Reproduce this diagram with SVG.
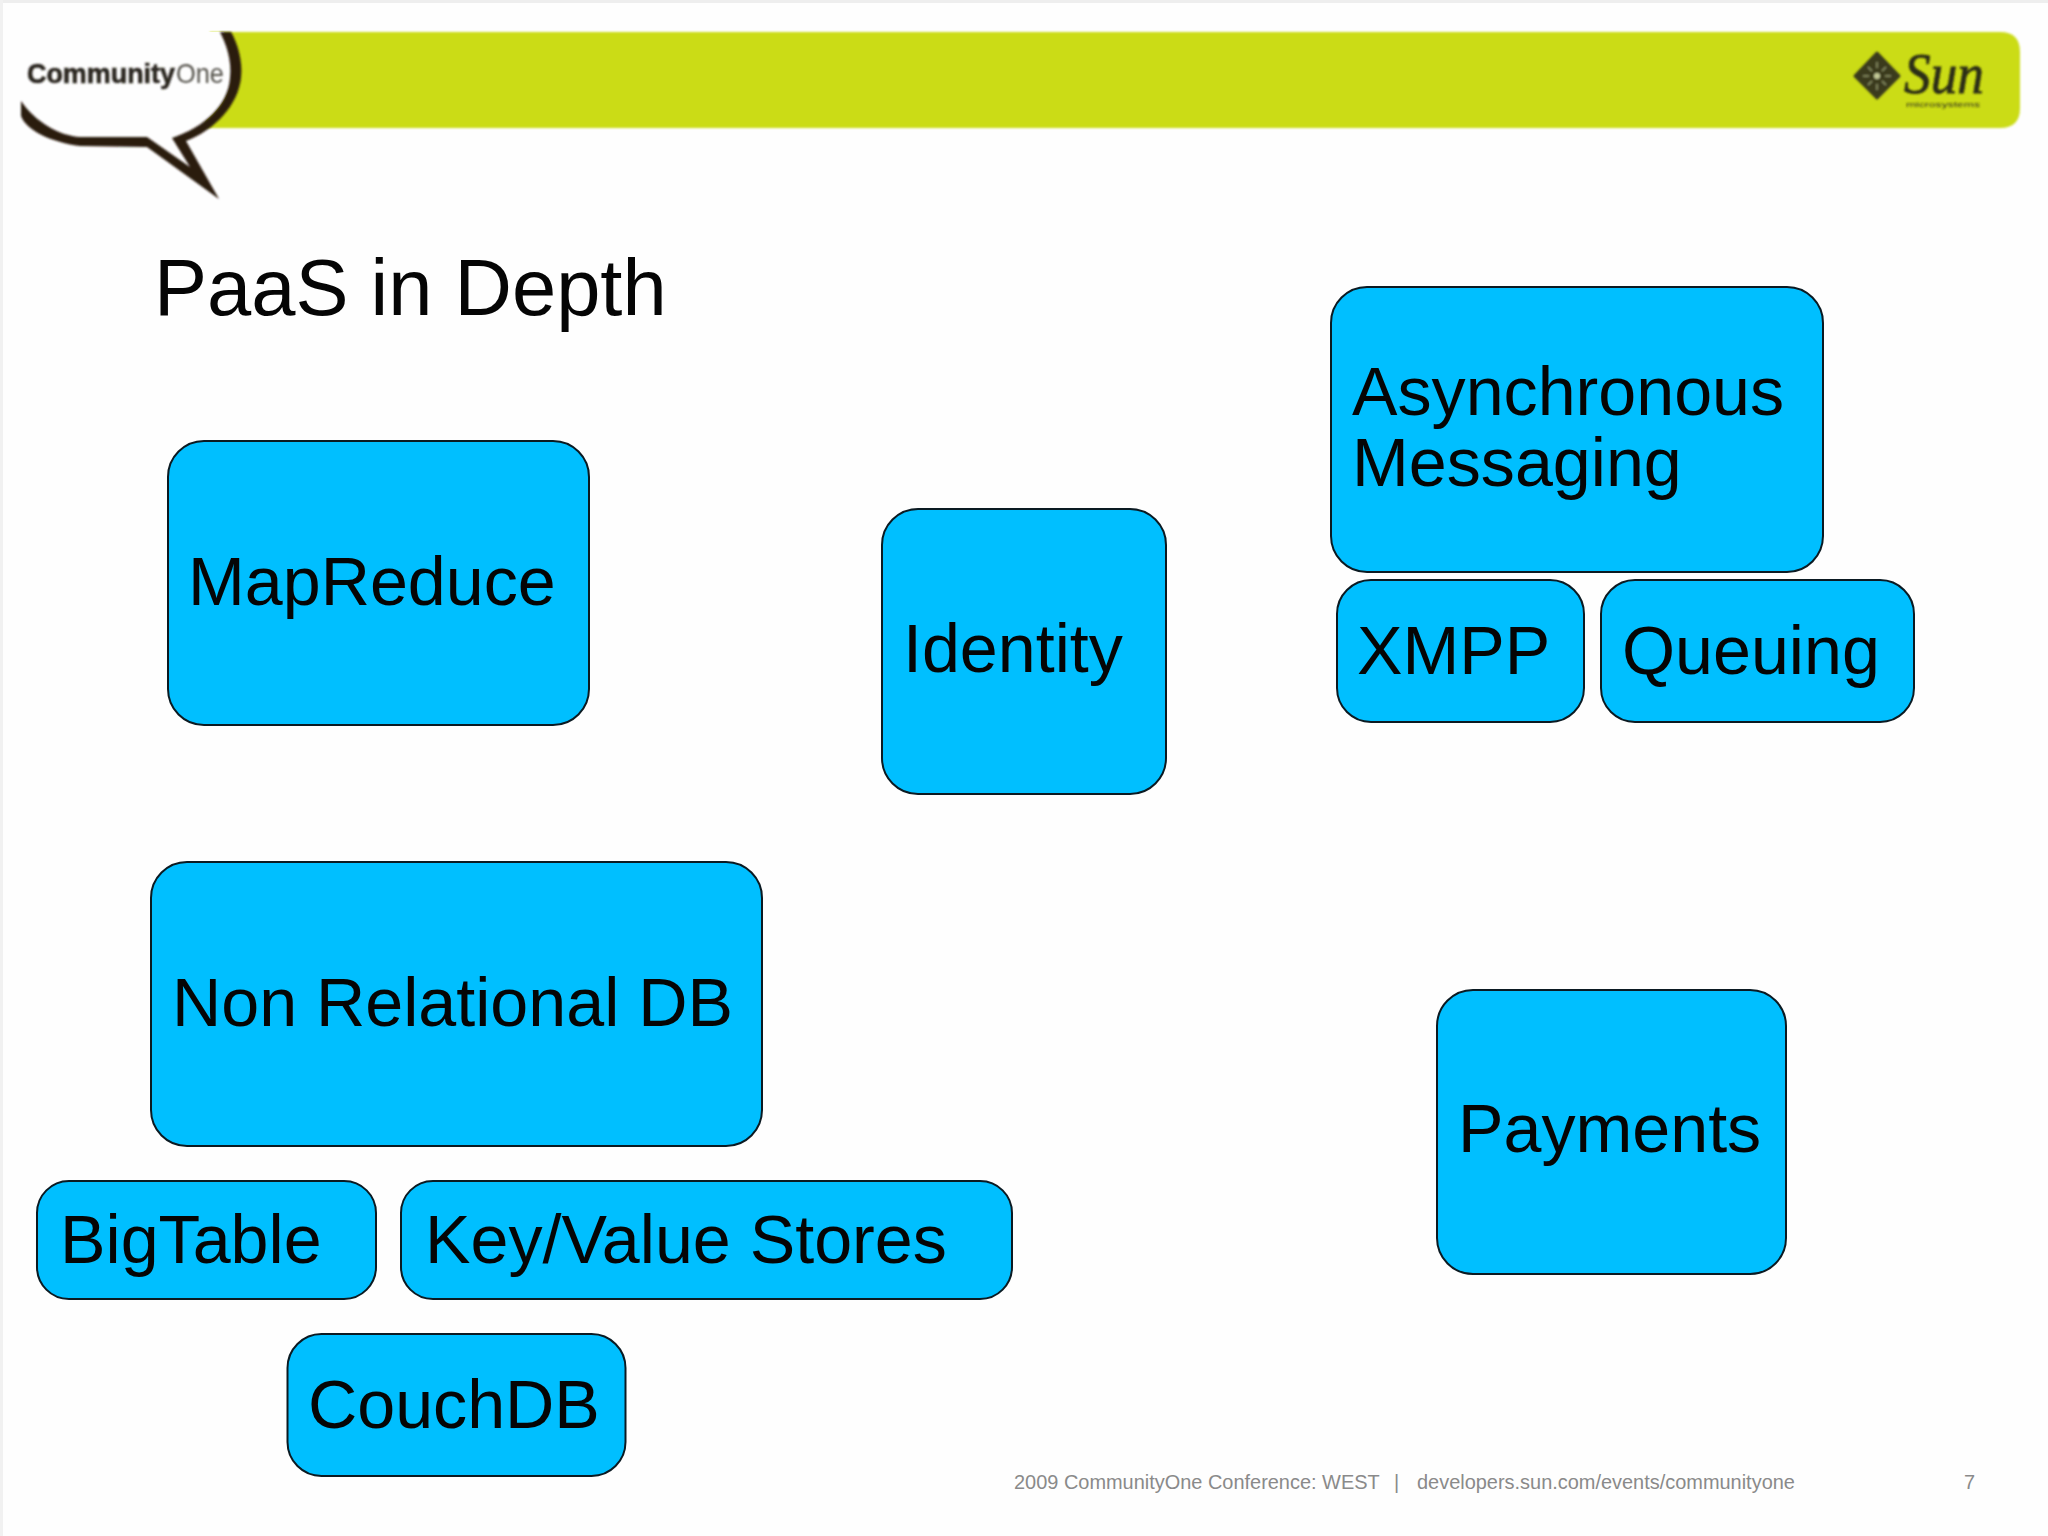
<svg xmlns="http://www.w3.org/2000/svg" width="2048" height="1536" viewBox="0 0 2048 1536">
<style>
text{font-family:"Liberation Sans",Arial,sans-serif}
.b{fill:#00bfff;stroke:#0b1a22;stroke-width:2}
.t{font-size:68.2px;fill:#050505}
.f{font-size:19.95px;fill:#8a8a8a}
</style>
<defs><filter id="s" x="-5%" y="-5%" width="110%" height="110%"><feGaussianBlur stdDeviation="0.8"/></filter></defs>
<rect width="2048" height="1536" fill="#fefefe"/>
<rect width="2048" height="3" fill="#eeeeee"/>
<rect width="3" height="1536" fill="#f1f1f1"/>
<g id="header">
<path d="M210 32H2000Q2020 32 2020 52V108Q2020 128 2000 128H205Z" fill="#cbdc16" filter="url(#s)"/>
<path d="M60 32H224C232 50 233 62 232 78C228 105 205 127 172 140H100L40 100Z" fill="#fefefe"/>
<path d="M220 32L231 32C237 42 243 60 241 78C238 105 215 130 186 141L219 199L147 147L80 146C50 142 26 130 21 116L21 101C35 122 60 136 80 137L147 137L190 167L172 138C205 127 228 105 230 78C232 60 226 44 220 32Z" fill="#2a1a0c" filter="url(#s)"/>
<g filter="url(#s)">
<text x="27" y="83" font-size="28" font-weight="700" fill="#2a2620" stroke="#2a2620" stroke-width="0.6" textLength="148" lengthAdjust="spacingAndGlyphs">Community</text>
<text x="176" y="83" font-size="28" fill="#55524c" textLength="48" lengthAdjust="spacingAndGlyphs">One</text>
<path d="M1877 53L1899 76L1877 98L1855 76Z" fill="#3a3a1e" stroke="#3a3a1e" stroke-width="3" stroke-linejoin="round"/>
<path d="M1877 62V68M1877 84V90M1863 76H1869M1885 76H1891M1868 67L1872 71M1882 81L1886 85M1886 67L1882 71M1872 81L1868 85" stroke="#8f9468" stroke-width="1.5" fill="none"/>
<circle cx="1877" cy="76" r="3" fill="#c4ca98"/>
<text x="1904" y="93" font-style="italic" font-size="57" fill="#2c2d14" stroke="#2c2d14" stroke-width="0.8" textLength="80" lengthAdjust="spacingAndGlyphs" style="font-family:'Liberation Serif',serif">Sun</text>
<text x="1906" y="107" font-size="8" fill="#33341a" textLength="74" lengthAdjust="spacingAndGlyphs">microsystems</text>
</g>
</g>
<text id="title" x="154" y="315" font-size="79.5" fill="#050505">PaaS in Depth</text>
<g id="mapreduce"><rect class="b" x="168" y="441" width="421" height="284" rx="36"/><text class="t" x="188" y="605">MapReduce</text></g>
<g id="identity"><rect class="b" x="882" y="509" width="284" height="285" rx="36"/><text class="t" x="903" y="672">Identity</text></g>
<g id="async"><rect class="b" x="1331" y="287" width="492" height="285" rx="36"/><text class="t" x="1352" y="415">Asynchronous</text><text class="t" x="1352" y="486">Messaging</text></g>
<g id="xmpp"><rect class="b" x="1337" y="580" width="247" height="142" rx="34"/><text class="t" x="1357" y="674">XMPP</text></g>
<g id="queuing"><rect class="b" x="1601" y="580" width="313" height="142" rx="34"/><text class="t" x="1622" y="674">Queuing</text></g>
<g id="nonrel"><rect class="b" x="151" y="862" width="611" height="284" rx="36"/><text class="t" x="172" y="1026">Non Relational DB</text></g>
<g id="bigtable"><rect class="b" x="37" y="1181" width="339" height="118" rx="32"/><text class="t" x="60" y="1263">BigTable</text></g>
<g id="keyvalue"><rect class="b" x="401" y="1181" width="611" height="118" rx="32"/><text class="t" x="425" y="1263">Key/Value Stores</text></g>
<g id="couchdb"><rect class="b" x="287.500" y="1334" width="338" height="142" rx="34"/><text class="t" x="308" y="1428">CouchDB</text></g>
<g id="payments"><rect class="b" x="1437" y="990" width="349" height="284" rx="36"/><text class="t" x="1458" y="1152">Payments</text></g>
<g id="footer"><text class="f" x="1014" y="1489">2009 CommunityOne Conference: WEST</text><text class="f" x="1394" y="1489">|</text><text class="f" x="1417" y="1489">developers.sun.com/events/communityone</text><text class="f" x="1964" y="1489">7</text></g>
</svg>
